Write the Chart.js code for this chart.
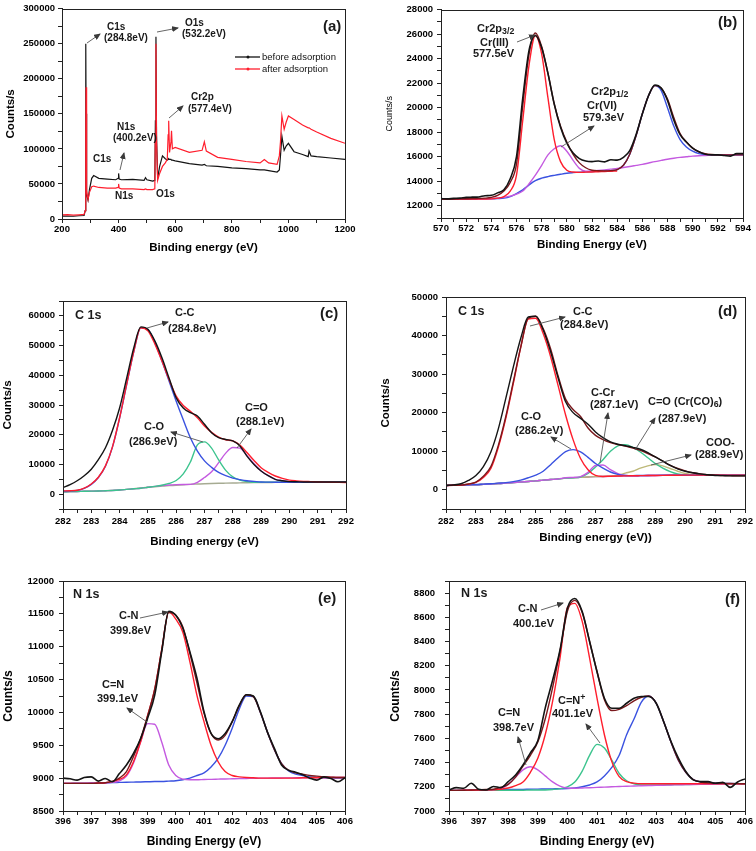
<!DOCTYPE html>
<html><head><meta charset="utf-8">
<script src="https://cdn.jsdelivr.net/npm/chart.js@4.4.1/dist/chart.umd.min.js"></script>
<style>
html,body{margin:0;padding:0;background:#fff;}
body{width:756px;height:851px;position:relative;overflow:hidden;font-family:'Liberation Sans',Arial,Helvetica,sans-serif;}
.pn{position:absolute;}
.pn canvas{display:block;}
.lb{position:absolute;font-weight:bold;line-height:1;transform:translateY(-50%);white-space:nowrap;color:#1a1a1a;}
.lb sub{font-size:80%;vertical-align:-0.3em;line-height:0;}
.lb sup{font-size:80%;vertical-align:0.45em;line-height:0;}
.lg{position:absolute;font-size:9.5px;line-height:1;transform:translateY(-50%);white-space:nowrap;color:#111;}
svg{position:absolute;left:0;top:0;pointer-events:none;}
</style></head><body>
<div class="pn" style="left:0;top:0"><canvas id="ca" width="378" height="285"></canvas></div>
<div class="pn" style="left:378px;top:0"><canvas id="cb" width="378" height="285"></canvas></div>
<div class="pn" style="left:0;top:285px"><canvas id="cc" width="378" height="280"></canvas></div>
<div class="pn" style="left:378px;top:285px"><canvas id="cd" width="378" height="280"></canvas></div>
<div class="pn" style="left:0;top:565px"><canvas id="ce" width="378" height="286"></canvas></div>
<div class="pn" style="left:378px;top:565px"><canvas id="cf" width="378" height="286"></canvas></div>
<svg id="ov" width="756" height="851"></svg>
<script>
// ---------------- DATA ----------------
// (a) survey spectra
const aEnergy = [200,220,240,260,278,282,284,285,286,288,292,297,305,312,330,360,390,398,400,402,410,450,490,495,500,520,528,530,532,534,538,545,555,565,572,575,577,580,585,587,590,600,650,695,703,710,750,800,850,900,915,930,960,968,972,977,985,992,1000,1020,1050,1070,1073,1080,1100,1150,1200];
const aBefore = [4000,4300,3900,4600,5000,12000,250000,150000,60000,35000,27000,42000,58000,62000,58000,57000,56000,58000,65000,57000,56000,56500,55000,59000,56000,54000,55000,140000,260000,120000,58000,75000,90000,86000,84000,85000,86000,85000,85000,84000,84000,83000,79000,77000,78000,76000,75000,73000,72000,70000,70000,69000,67000,70000,90000,118000,98000,104000,108000,96000,92000,89000,97000,90000,89000,87000,85000];
const aAfter = [6000,6200,5500,6000,6500,12000,120000,188000,125000,40000,28000,38000,46000,47000,45000,44000,44000,45000,50000,44000,43000,43000,42000,43000,42000,42000,43000,120000,250000,110000,55000,65000,75000,80000,85000,120000,140000,95000,110000,126000,100000,102000,95000,98000,110000,97000,88000,85000,82000,80000,85000,80000,78000,90000,110000,147000,128000,138000,147000,142000,134000,130000,130000,128000,124000,115000,108000];

// (b) Cr 2p
const bEnergy = [570,570.5,571,571.5,572,572.5,573,573.5,574,574.5,575,575.5,576,576.5,577,577.5,578,578.5,579,579.5,580,580.5,581,581.5,582,582.5,583,583.5,584,584.5,585,585.5,586,586.5,587,587.5,588,588.5,589,589.5,590,590.5,591,591.5,592,592.5,593,593.5,594];
const bRaw = [12580,12560,12600,12620,12680,12700,12720,12820,12850,13050,13300,14200,16000,20800,24700,25900,24900,22800,20300,18400,17100,16300,15850,15650,15600,15650,15580,15750,15720,15950,16500,17800,19500,21000,21850,21600,20600,19000,17800,17200,16700,16400,16200,16150,16150,16100,16050,16250,16250];
const bFit = [12550,12550,12550,12560,12570,12580,12600,12620,12680,12850,13200,13900,15400,20200,24400,26100,25000,22800,20300,18500,17200,16200,15500,15100,14900,14860,14850,14870,14950,15300,16200,17700,19500,21000,21800,21600,20700,19200,17900,17200,16700,16400,16250,16180,16150,16150,16150,16150,16150];
const bCr3 = [12550,12550,12550,12550,12550,12550,12550,12555,12560,12620,12750,13200,14500,19000,23500,25900,24400,20800,17400,15600,14900,14750,14720,14740,14760,14780,14800,14820,14840,null,null,null,null,null,null,null,null,null,null,null,null,null,null,null,null,null,null,null,null];
const bCr6 = [12550,12550,12550,12550,12550,12550,12560,12570,12580,12620,12680,12780,12950,13200,13800,14500,15300,16150,16650,16900,16450,15700,15050,14820,14840,14880,14930,14990,15050,15120,15200,15290,15380,15490,15600,15700,15800,15880,15950,16000,16050,16080,16100,16130,16150,16150,16150,16160,16160];
const bP12 = [12550,12550,12550,12550,12550,12550,12555,12560,12570,12590,12620,12750,13000,13300,13700,14050,14250,14380,14480,14570,14650,14700,14740,14770,14800,14820,14840,14870,14950,15300,16200,17700,19500,21000,21800,21400,20000,18500,17400,16800,16450,16250,16170,16150,16150,16150,16150,16150,16150];

// (c) C 1s before
const cEnergy = [282,282.25,282.5,282.75,283,283.25,283.5,283.75,284,284.25,284.5,284.75,285,285.25,285.5,285.75,286,286.25,286.5,286.75,287,287.25,287.5,287.75,288,288.25,288.5,288.75,289,289.25,289.5,289.75,290,290.25,290.5,290.75,291,291.25,291.5,291.75,292];
const cRaw = [2200,3200,4500,6200,8400,11600,15600,21500,29000,39000,49200,56300,55500,51500,45800,39000,32400,29000,27400,26300,23500,20700,19000,18400,17900,16200,12800,10000,7800,6200,5000,4500,4200,4150,4100,4100,4100,4100,4100,4100,4100];
const cFit = [1100,1150,1300,2000,3400,5700,9500,16000,25700,37000,48000,56000,55000,50500,44700,38500,33000,29800,27900,25700,22900,20800,19200,18300,17900,16500,14000,11300,8900,7300,6100,5300,4700,4450,4300,4200,4100,4050,4000,3950,3900];
const cCC = [1000,1100,1250,1950,3300,5600,9400,15900,25600,36900,47900,56000,55400,51000,44700,38000,31300,25000,19000,14500,11200,9000,7300,6200,5400,4900,4500,4300,4100,4050,4000,4000,4000,4000,4000,4000,4000,4000,4000,4000,4000];
const cCO = [800,850,900,950,1000,1050,1150,1250,1400,1600,1800,2000,2300,2600,3000,3600,4600,6800,10800,16600,17600,15500,11500,8000,5800,4700,4200,4000,4000,4000,4000,4000,4000,4000,4000,4000,4000,4000,4000,4000,4000];
const cCdO = [800,850,900,950,1000,1050,1150,1250,1400,1600,1800,2000,2300,2600,2900,3100,3200,3250,3300,4000,5600,7500,10600,13800,15700,15500,13000,10200,7800,6200,5000,4500,4200,4100,4100,4050,4000,4000,4000,4000,4000];
const cBase = [800,850,900,950,1000,1070,1150,1270,1400,1600,1800,2050,2300,2500,2700,2850,3000,3150,3300,3400,3500,3580,3650,3700,3750,3800,3850,3880,3900,3930,3950,3980,4000,4000,4000,4000,4000,4000,4000,4000,4000];

// (d) C 1s after
const dEnergy = [282,282.25,282.5,282.75,283,283.25,283.5,283.75,284,284.25,284.5,284.75,285,285.25,285.5,285.75,286,286.25,286.5,286.75,287,287.25,287.5,287.75,288,288.25,288.5,288.75,289,289.25,289.5,289.75,290,290.25,290.5,290.75,291,291.25,291.5,291.75,292];
const dRaw = [1100,1250,1560,2400,3700,6000,9800,15800,23700,31800,39300,44800,45000,41500,35800,29000,22800,20000,18500,17000,15000,13500,12400,11800,11400,11000,10500,9600,8500,7400,6300,5400,4800,4400,4100,3900,3700,3650,3600,3600,3600];
const dFit = [1100,1150,1200,1500,2000,3500,6000,11500,19000,28000,37000,44500,45000,41800,36500,29500,23500,20800,19000,16000,14100,13000,12200,11700,11300,10800,10200,9400,8500,7400,6300,5500,4900,4400,4100,3900,3800,3700,3650,3600,3600];
const dCC = [1100,1150,1200,1450,1900,3200,5500,11000,18500,27500,37000,44300,44500,40500,34500,27000,19400,13000,8100,5200,3700,3450,3500,3550,3600,3620,3650,3680,3700,3720,3740,3760,3780,3800,3800,3800,3800,3800,3800,3800,3800];
const dCO = [1100,1150,1200,1300,1350,1450,1550,1700,1850,2100,2500,3100,3800,4800,6500,8300,9900,10400,9800,8400,6800,5600,4600,4000,3700,3650,3700,3700,3720,3740,3760,3780,3800,3800,3800,3800,3800,3800,3800,3800,3800];
const dCCr = [1100,1150,1200,1250,1300,1400,1500,1600,1700,1850,2000,2150,2300,2500,2650,2800,3100,3200,3400,4500,6300,6400,5200,4200,3700,3630,3650,3680,3700,3720,3740,3760,3780,3800,3800,3800,3800,3800,3800,3800,3800];
const dCdO = [1100,1150,1200,1250,1300,1400,1500,1600,1700,1850,2000,2150,2300,2500,2650,2800,3000,3100,3300,4200,5900,7800,10000,11400,11700,11000,9800,8300,6800,5600,4700,4100,3850,3780,3800,3800,3800,3800,3800,3800,3800];
const dCOO = [1100,1150,1200,1250,1300,1400,1500,1600,1700,1850,2000,2150,2300,2500,2650,2800,3000,3100,3200,3300,3400,3450,3500,3800,4300,4800,5600,6200,6500,6200,5500,4800,4200,3900,3750,3750,3800,3800,3800,3800,3800];
const dBase = [1100,1150,1200,1250,1300,1400,1500,1600,1700,1850,2000,2150,2300,2500,2650,2800,3000,3100,3200,3300,3400,3450,3500,3550,3600,3620,3650,3680,3700,3720,3740,3760,3780,3800,3800,3800,3800,3800,3800,3800,3800];

// (e) N 1s before
const eEnergy = [396,396.25,396.5,396.75,397,397.25,397.5,397.75,398,398.25,398.5,398.75,399,399.25,399.5,399.75,400,400.25,400.5,400.75,401,401.25,401.5,401.75,402,402.25,402.5,402.75,403,403.25,403.5,403.75,404,404.25,404.5,404.75,405,405.25,405.5,405.75,406];
const eRaw = [9000,8990,8970,9010,9020,8955,8995,8945,9070,9200,9375,9600,9910,10260,10920,11540,11480,11280,10920,10520,10010,9680,9600,9680,9860,10110,10270,10250,10010,9700,9450,9200,9120,9090,9050,9000,8970,9020,8995,8945,9006];
const eFit = [8920,8920,8920,8920,8920,8925,8930,8950,9000,9100,9330,9600,9950,10350,10950,11520,11480,11300,10900,10450,9990,9680,9580,9650,9860,10100,10270,10240,10000,9700,9430,9220,9120,9080,9060,9040,9030,9020,9015,9010,9010];
const eCN = [8920,8920,8920,8920,8920,8925,8930,8950,8980,9050,9250,9550,9950,10350,10950,11530,11420,11220,10770,10260,9860,9500,9250,9100,9040,9020,9010,9005,9000,9000,9000,9000,9000,9000,9005,9005,9005,9010,9010,9010,9010];
const eCdN = [8920,8920,8920,8920,8922,8925,8928,8935,8960,9030,9230,9550,9830,9820,9550,9200,9040,8985,8975,8975,8980,8982,8985,8988,8990,8992,8995,8997,9000,9000,9002,9003,9004,9005,9006,9007,9008,9009,9010,9010,9010];
const eHigh = [8920,8921,8922,8924,8925,8927,8930,8932,8935,8938,8940,8942,8945,8948,8950,8955,8960,8975,9000,9040,9080,9170,9300,9500,9760,10050,10250,10240,10000,9700,9430,9220,9110,9060,9040,9020,9010,9005,9003,9002,9000];

// (f) N 1s after
const fEnergy = [396,396.25,396.5,396.75,397,397.25,397.5,397.75,398,398.25,398.5,398.75,399,399.25,399.5,399.75,400,400.25,400.5,400.75,401,401.25,401.5,401.75,402,402.25,402.5,402.75,403,403.25,403.5,403.75,404,404.25,404.5,404.75,405,405.25,405.5,405.75,406];
const fRaw = [7174,7193,7188,7229,7180,7174,7202,7193,7243,7298,7380,7480,7580,7850,8080,8330,8676,8755,8648,8400,8152,7932,7849,7849,7890,7932,7946,7946,7890,7739,7574,7436,7326,7257,7243,7243,7229,7237,7195,7240,7265];
const fFit = [7170,7170,7172,7173,7175,7177,7180,7195,7220,7280,7370,7460,7570,7760,8020,8320,8650,8740,8640,8400,8150,7920,7830,7840,7870,7910,7940,7950,7890,7740,7570,7420,7320,7260,7240,7232,7230,7228,7227,7226,7225];
const fCN = [7170,7170,7171,7172,7173,7174,7175,7180,7190,7210,7240,7320,7436,7630,7905,8263,8680,8715,8566,8263,7932,7630,7408,7284,7243,7230,7225,7225,7225,7225,7225,7225,7225,7225,7225,7225,7225,7225,7225,7225,7225];
const fCdN = [7170,7170,7171,7172,7173,7174,7176,7185,7220,7280,7340,7365,7340,7290,7240,7205,7190,7188,7190,7192,7195,7197,7200,7202,7205,7206,7208,7210,7212,7213,7215,7216,7218,7219,7220,7221,7222,7223,7224,7224,7225];
const fCdNp = [7170,7170,7170,7170,7171,7171,7171,7172,7172,7172,7172,7173,7173,7174,7178,7185,7200,7240,7330,7460,7550,7520,7420,7310,7250,7225,7215,7215,7215,7216,7217,7218,7219,7220,7221,7222,7223,7224,7224,7225,7225];
const fHigh = [7170,7170,7171,7172,7173,7174,7175,7176,7177,7178,7179,7180,7181,7182,7183,7184,7185,7190,7200,7215,7240,7290,7360,7460,7630,7760,7900,7950,7890,7740,7570,7420,7320,7260,7240,7232,7230,7228,7227,7226,7225];

// ---------------- STYLE ----------------
const FONT = "'Liberation Sans', Arial, Helvetica, sans-serif";
Chart.defaults.font.family = FONT;
Chart.defaults.color = '#000';
const COL = {black:'#141414', red:'#ff1e2d', fit:'#7a181c', blue:'#3a52e0', mag:'#c45ae0', green:'#3cc48e', olive:'#bdb878', base:'#a6ab92', purple:'#9b55cc'};

const framePlugin = {
  id: 'frame',
  afterDatasetsDraw(chart) {
    const a = chart.chartArea, ctx = chart.ctx;
    ctx.save();
    ctx.strokeStyle = '#222'; ctx.lineWidth = 1;
    ctx.strokeRect(Math.round(a.left) + 0.5, Math.round(a.top) + 0.5, Math.round(a.right - a.left), Math.round(a.bottom - a.top));
    ctx.restore();
  }
};

function isMajor(v, m) { return Math.abs(v / m - Math.round(v / m)) < 1e-6; }

function panel(id, p) {
  const datasets = p.series.map((s, i) => ({
    label: s.name,
    data: p.x.map((x, k) => ({x: x, y: s.y[k]})),
    borderColor: s.color, backgroundColor: s.color,
    borderWidth: s.w || 1.4, pointRadius: 0, fill: false,
    tension: p.smooth ? 0.4 : 0,
    cubicInterpolationMode: p.smooth ? 'monotone' : 'default',
    spanGaps: false, order: i
  }));
  const tickFont = {size: 9.5, weight: 'bold', family: FONT};
  return new Chart(document.getElementById(id), {
    type: 'line',
    data: {datasets},
    plugins: [framePlugin],
    options: {
      responsive: false, animation: false, events: [],
      layout: {padding: {left: 0, top: p.padT, right: p.padR, bottom: 0}},
      plugins: {legend: {display: false}, tooltip: {enabled: false}},
      scales: {
        x: {
          type: 'linear', min: p.xr[0], max: p.xr[1],
          afterFit: s => { s.height = p.xH; },
          ticks: {stepSize: p.xs[0], autoSkip: false, maxRotation: 0, minRotation: 0, padding: p.xtp, font: tickFont, color: '#000',
                  callback: v => isMajor(v, p.xs[1]) ? String(v) : ''},
          grid: {drawOnChartArea: false, tickLength: 4, color: '#222', tickColor: '#222', tickWidth: 1},
          border: {display: true, color: '#222', width: 1},
          title: {display: true, text: p.xt, color: '#000', font: {size: p.xtf, weight: 'bold', family: FONT}, padding: {top: 0, bottom: p.xtPad}}
        },
        y: {
          type: 'linear', min: p.yr[0], max: p.yr[1],
          afterFit: s => { s.width = p.yW; },
          ticks: {stepSize: p.ys[0], autoSkip: false, padding: p.ytp, font: tickFont, color: '#000',
                  callback: v => isMajor(v, p.ys[1]) ? String(v) : ''},
          grid: {drawOnChartArea: false, tickLength: 4, color: '#222', tickColor: '#222', tickWidth: 1},
          border: {display: true, color: '#222', width: 1},
          title: {display: true, text: 'Counts/s', color: '#000', font: {size: p.ytf, weight: p.ytw, family: FONT}, padding: {top: p.ytPad, bottom: 0}}
        }
      }
    }
  });
}

panel('ca', {x: aEnergy, smooth: false, xr: [200, 1200], xs: [100, 200], yr: [0, 300000], ys: [25000, 50000],
  padT: 8, padR: 33, xH: 66, yW: 62, xtp: 1, ytp: 3, xt: 'Binding energy (eV)', xtf: 11.5, xtPad: 30, ytf: 11.5, ytw: 'bold', ytPad: 4,
  series: [{name: 'after adsorption', y: aAfter, color: COL.red, w: 1.2}, {name: 'before adsorption', y: aBefore, color: COL.black, w: 1.2}]});

panel('cb', {x: bEnergy, smooth: true, xr: [570, 594], xs: [1, 2], yr: [11000, 28000], ys: [1000, 2000],
  padT: 6, padR: 13, xH: 67, yW: 63, xtp: 1, ytp: 4, xt: 'Binding Energy (eV)', xtf: 11.5, xtPad: 33, ytf: 9, ytw: 'normal', ytPad: 6,
  series: [{name: 'raw', y: bRaw, color: COL.black, w: 1.6}, {name: 'fit', y: bFit, color: COL.fit}, {name: 'Cr(III)', y: bCr3, color: COL.red},
           {name: 'Cr(VI)', y: bCr6, color: COL.mag}, {name: 'Cr2p1/2', y: bP12, color: COL.blue}]});

panel('cc', {x: cEnergy, smooth: true, xr: [282, 292], xs: [0.5, 1], yr: [-5000, 65000], ys: [5000, 10000],
  padT: 16, padR: 32, xH: 56, yW: 63, xtp: 3, ytp: 4, xt: 'Binding energy (eV)', xtf: 11.5, xtPad: 16, ytf: 11.5, ytw: 'bold', ytPad: 1,
  series: [{name: 'raw', y: cRaw, color: COL.black}, {name: 'fit', y: cFit, color: COL.red}, {name: 'C-C', y: cCC, color: COL.blue},
           {name: 'C-O', y: cCO, color: COL.green}, {name: 'C=O', y: cCdO, color: COL.mag}, {name: 'baseline', y: cBase, color: COL.base}]});

panel('cd', {x: dEnergy, smooth: true, xr: [282, 292], xs: [0.5, 1], yr: [-5000, 50000], ys: [5000, 10000],
  padT: 12, padR: 11, xH: 56, yW: 68, xtp: 3, ytp: 4, xt: 'Binding energy (eV))', xtf: 11.5, xtPad: 20, ytf: 11.5, ytw: 'bold', ytPad: 1,
  series: [{name: 'raw', y: dRaw, color: COL.black}, {name: 'fit', y: dFit, color: COL.fit}, {name: 'C-C', y: dCC, color: COL.red},
           {name: 'C-O', y: dCO, color: COL.blue}, {name: 'C-Cr', y: dCCr, color: COL.mag}, {name: 'C=O', y: dCdO, color: COL.green},
           {name: 'COO-', y: dCOO, color: COL.olive}, {name: 'baseline', y: dBase, color: COL.purple}]});

panel('ce', {x: eEnergy, smooth: true, xr: [396, 406], xs: [0.5, 1], yr: [8500, 12000], ys: [250, 500],
  padT: 16, padR: 33, xH: 40, yW: 63, xtp: 1, ytp: 5, xt: 'Binding Energy (eV)', xtf: 12, xtPad: 2, ytf: 12, ytw: 'bold', ytPad: 1,
  series: [{name: 'raw', y: eRaw, color: COL.black, w: 1.6}, {name: 'fit', y: eFit, color: COL.fit}, {name: 'C-N', y: eCN, color: COL.red},
           {name: 'C=N', y: eCdN, color: COL.mag}, {name: 'high', y: eHigh, color: COL.blue}]});

panel('cf', {x: fEnergy, smooth: true, xr: [396, 406], xs: [0.5, 1], yr: [7000, 8900], ys: [100, 200],
  padT: 16, padR: 11, xH: 40, yW: 71, xtp: 1, ytp: 10, xt: 'Binding Energy (eV)', xtf: 12, xtPad: 2, ytf: 12, ytw: 'bold', ytPad: 10,
  series: [{name: 'raw', y: fRaw, color: COL.black, w: 1.6}, {name: 'fit', y: fFit, color: COL.fit}, {name: 'C-N', y: fCN, color: COL.red},
           {name: 'C=N', y: fCdN, color: COL.mag}, {name: 'C=N+', y: fCdNp, color: COL.green}, {name: 'high', y: fHigh, color: COL.blue}]});

// ---------------- ANNOTATIONS ----------------
const notes = [
  [107,27,'C1s',10],[104,38,'(284.8eV)',10],[185,23,'O1s',10],[182,34,'(532.2eV)',10],
  [191,97,'Cr2p',10],[188,109,'(577.4eV)',10],[117,127,'N1s',10],[113,138,'(400.2eV)',10],
  [93,159,'C1s',10],[115,196,'N1s',10],[156,194,'O1s',10],[323,25,'(a)',15],
  [477,28,'Cr2p<sub>3/2</sub>',11],[480,42,'Cr(III)',11],[473,53,'577.5eV',11],
  [591,91,'Cr2p<sub>1/2</sub>',11],[587,105,'Cr(VI)',11],[583,117,'579.3eV',11],[718,21,'(b)',15],
  [75,315,'C 1s',12.5],[320,312,'(c)',15],[175,312,'C-C',11],[168,328,'(284.8eV)',11],
  [144,426,'C-O',11],[129,441,'(286.9eV)',11],[245,407,'C=O',11],[236,421,'(288.1eV)',11],
  [458,311,'C 1s',12.5],[718,310,'(d)',15],[573,311,'C-C',11],[560,324,'(284.8eV)',11],
  [521,416,'C-O',11],[515,430,'(286.2eV)',11],[591,392,'C-Cr',11],[590,404,'(287.1eV)',11],
  [648,401,'C=O (Cr(CO)<sub>6</sub>)',11],[658,418,'(287.9eV)',11],[706,442,'COO-',11],[695,454,'(288.9eV)',11],
  [73,594,'N 1s',12.5],[318,597,'(e)',15],[119,615,'C-N',11],[110,630,'399.8eV',11],[102,684,'C=N',11],[97,698,'399.1eV',11],
  [461,593,'N 1s',12.5],[725,598,'(f)',15],[518,608,'C-N',11],[513,623,'400.1eV',11],
  [558,700,'C=N<sup>+</sup>',11],[552,713,'401.1eV',11],[498,712,'C=N',11],[493,727,'398.7eV',11]
];
notes.forEach(n => {
  const d = document.createElement('div');
  d.className = 'lb';
  d.style.left = n[0] + 'px'; d.style.top = n[1] + 'px'; d.style.fontSize = n[3] + 'px';
  d.innerHTML = n[2];
  document.body.appendChild(d);
});

const arrows = [
  [87,43,100,34],[157,32,178,28],[169,118,183,106],[120,170,124,153],
  [517,42,535,35],[561,147,594,126],
  [147,328,168,322],[203,442,171,432],[237,448,251,429],
  [530,326,565,317],[571,449,551,437],[600,463,608,413],[635,450,655,418],[651,465,691,455],
  [140,618,168,612],[147,722,127,708],
  [541,610,563,603],[600,743,586,724],[526,765,518,737]
];
const NS = 'http://www.w3.org/2000/svg';
const svg = document.getElementById('ov');
const defs = document.createElementNS(NS, 'defs');
defs.innerHTML = '<marker id="ah" markerUnits="userSpaceOnUse" markerWidth="7" markerHeight="6" refX="6" refY="3" orient="auto"><path d="M0,0 L7,3 L0,6 z" fill="#3a3a3a"/></marker>';
svg.appendChild(defs);
arrows.forEach(a => {
  const l = document.createElementNS(NS, 'line');
  l.setAttribute('x1', a[0]); l.setAttribute('y1', a[1]); l.setAttribute('x2', a[2]); l.setAttribute('y2', a[3]);
  l.setAttribute('stroke', '#555'); l.setAttribute('stroke-width', '0.9'); l.setAttribute('marker-end', 'url(#ah)');
  svg.appendChild(l);
});

// legend of panel (a)
const legendItems = [[57, 'before adsorption', COL.black], [69, 'after adsorption', COL.red]];
legendItems.forEach(it => {
  const l = document.createElementNS(NS, 'line');
  l.setAttribute('x1', 235); l.setAttribute('x2', 260); l.setAttribute('y1', it[0]); l.setAttribute('y2', it[0]);
  l.setAttribute('stroke', it[2]); l.setAttribute('stroke-width', '1.3');
  svg.appendChild(l);
  const c = document.createElementNS(NS, 'circle');
  c.setAttribute('cx', 248); c.setAttribute('cy', it[0]); c.setAttribute('r', 1.5); c.setAttribute('fill', it[2]);
  svg.appendChild(c);
  const d = document.createElement('div');
  d.className = 'lg';
  d.style.left = '262px'; d.style.top = it[0] + 'px';
  d.textContent = it[1];
  document.body.appendChild(d);
});
</script>
</body></html>
